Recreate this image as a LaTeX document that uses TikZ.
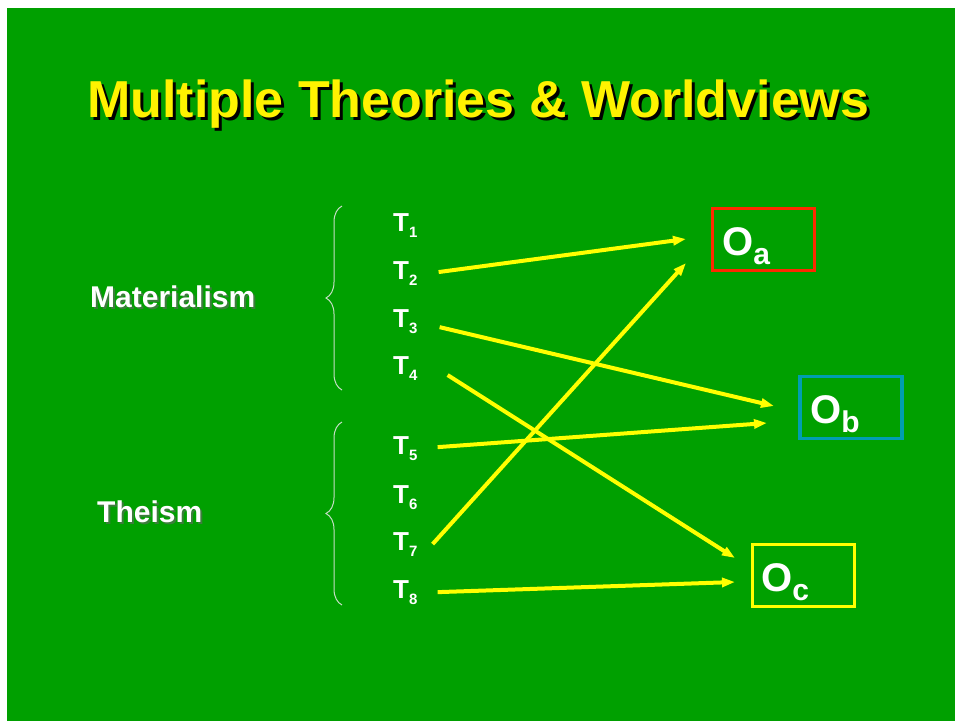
\documentclass[tikz,border=0pt]{standalone}
\usepackage{fontspec}
\setmainfont{Liberation Sans}
\usepackage{tikz}
\usetikzlibrary{arrows.meta,decorations.pathreplacing}

\definecolor{slidegreen}{RGB}{0,160,0}
\definecolor{bracegray}{RGB}{196,222,196}
\definecolor{boxred}{RGB}{255,40,0}
\definecolor{boxteal}{RGB}{0,158,176}
\definecolor{lineyellow}{RGB}{255,255,0}

\newcommand{\tlab}[1]{T\raisebox{-6pt}{\fontsize{15}{15}\selectfont #1}}
\newcommand{\olab}[1]{O\raisebox{-9pt}{\fontsize{30}{30}\selectfont #1}}

\begin{document}
\begin{tikzpicture}[x=1pt,y=-1pt,>={Triangle[length=13pt,width=9pt]},
  theory/.style={anchor=base west,inner sep=0pt,white,font=\fontsize{26}{26}\selectfont\bfseries},
  camp/.style={anchor=base west,inner sep=0pt,font=\fontsize{30}{30}\selectfont\bfseries},
  outcome/.style={draw=#1,line width=3.5pt,minimum width=102pt,minimum height=62pt,inner sep=0pt},
  olabel/.style={anchor=base west,inner sep=0pt,white,font=\fontsize{40}{40}\selectfont\bfseries},
  link/.style={->,line width=4pt,lineyellow},
  bracket/.style={decorate,decoration={brace,amplitude=16pt},bracegray,line width=1pt}]
\useasboundingbox (0,0) rectangle (955,721);
\fill[slidegreen] (7,8) rectangle (955,721);
% title with its drop shadow
\node[anchor=base west,inner sep=0pt,black,font=\fontsize{52}{52}\selectfont\bfseries]
  at (90,120) {Multiple Theories \& Worldviews};
\node[anchor=base west,inner sep=0pt,yellow,font=\fontsize{52}{52}\selectfont\bfseries]
  (title) at (87,117) {Multiple Theories \& Worldviews};
% the two worldviews
\node[camp,black!60,opacity=.6] at (92,309) {Materialism};
\node[camp,white] (mat) at (90,307) {Materialism};
\node[camp,black!60,opacity=.6] at (99,524) {Theism};
\node[camp,white] (the) at (97,522) {Theism};
\draw[bracket] (342,390) -- (342,206);
\draw[bracket] (342,605) -- (342,422);
% theories
\node[theory] (t1) at (393,231) {\tlab{1}};
\node[theory] (t2) at (393,279) {\tlab{2}};
\node[theory] (t3) at (393,327) {\tlab{3}};
\node[theory] (t4) at (393,374) {\tlab{4}};
\node[theory] (t5) at (393,454) {\tlab{5}};
\node[theory] (t6) at (393,503) {\tlab{6}};
\node[theory] (t7) at (393,550) {\tlab{7}};
\node[theory] (t8) at (393,598) {\tlab{8}};
% observations
\node[outcome=boxred] (oa) at (763.5,239.5) {};
\node[outcome=boxteal] (ob) at (851,407.5) {};
\node[outcome=lineyellow] (oc) at (803.5,575.5) {};
\node[olabel] at (722,255) {\olab{a}};
\node[olabel] at (810,423) {\olab{b}};
\node[olabel] at (761,591) {\olab{c}};
\coordinate (tipa1) at (686,239);
\coordinate (tipa2) at (686,263);
\coordinate (tipb1) at (774,406);
\coordinate (tipb2) at (767,423);
\coordinate (tipc1) at (735,558);
\coordinate (tipc2) at (735,582);
\draw[link] ([shift={(21,-1)}]t2.east) -- (tipa1);
\draw[link] ([shift={(15,0)}]t7.east) -- (tipa2);
\draw[link] ([shift={(22,6)}]t3.east) -- (tipb1);
\draw[link] ([shift={(20,-1)}]t5.east) -- (tipb2);
\draw[link] ([shift={(30,7)}]t4.east) -- (tipc1);
\draw[link] ([shift={(20,0)}]t8.east) -- (tipc2);
\end{tikzpicture}
\end{document}
